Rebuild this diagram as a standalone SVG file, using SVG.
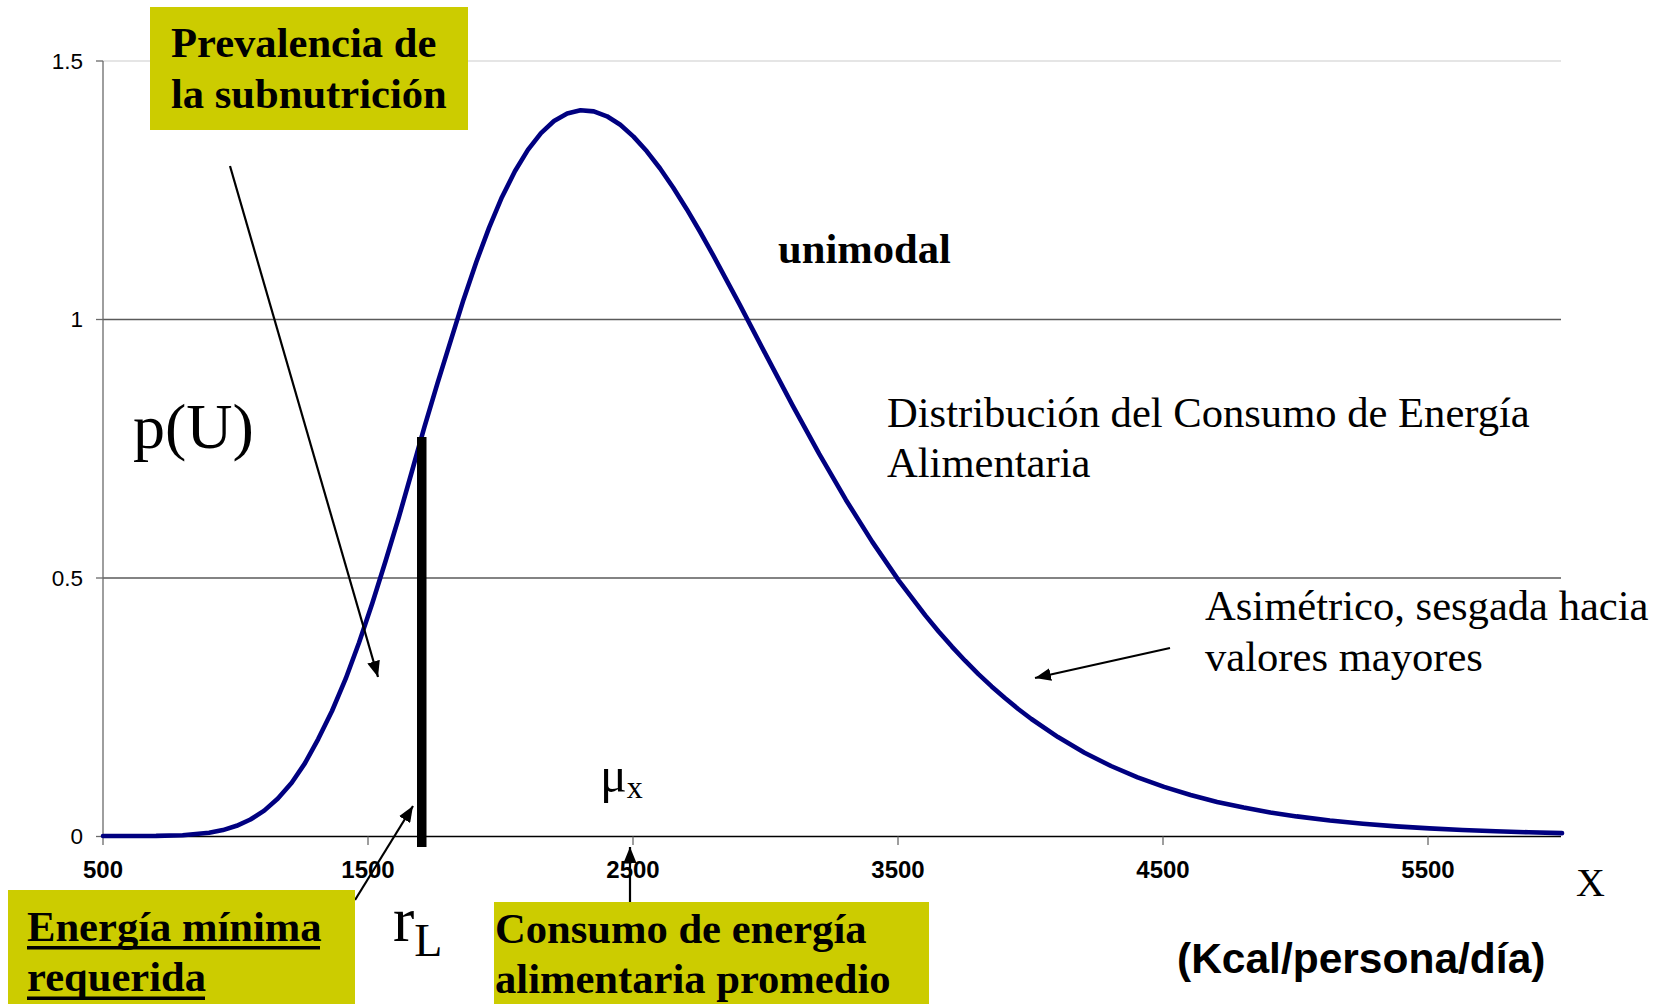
<svg xmlns="http://www.w3.org/2000/svg" width="1660" height="1004" viewBox="0 0 1660 1004">
<defs>
<style>
.serif{font-family:"Liberation Serif","Times New Roman",serif;fill:#000}
.sans{font-family:"Liberation Sans",Arial,sans-serif;fill:#000}
.lbl{font-size:42.6px;font-weight:bold}
.note{font-size:42.6px}
.ytick{font-size:22.5px;text-anchor:end}
.xtick{font-size:24px;font-weight:bold;text-anchor:middle}
.box{fill:#CCCC00}
.grid{stroke:#5a5a5a;stroke-width:1.3}
.conn{stroke:#000;stroke-width:2.2;fill:none}
</style>
<marker id="ah" viewBox="0 0 16 13" refX="16" refY="6.5" markerWidth="16" markerHeight="13" markerUnits="userSpaceOnUse" orient="auto">
<path d="M0,0 L16,6.5 L0,13 Z" fill="#000"/>
</marker>
</defs>
<rect width="1660" height="1004" fill="#fff"/>

<g id="axes">
<line x1="103" y1="61" x2="1561" y2="61" stroke="#dcdcdc" stroke-width="1.3"/>
<line class="grid" x1="103" y1="319.5" x2="1561" y2="319.5"/>
<line class="grid" x1="103" y1="578" x2="1561" y2="578"/>
<line x1="103" y1="61" x2="103" y2="845" stroke="#6a6a6a" stroke-width="1.3"/>
<line x1="103" y1="836.5" x2="1561" y2="836.5" stroke="#000" stroke-width="1.4"/>
<g stroke="#6a6a6a" stroke-width="1.3">
<line x1="96" y1="61" x2="103" y2="61"/>
<line x1="96" y1="319.5" x2="103" y2="319.5"/>
<line x1="96" y1="578" x2="103" y2="578"/>
<line x1="96" y1="836.5" x2="103" y2="836.5"/>
<line x1="368" y1="836.5" x2="368" y2="845"/>
<line x1="633" y1="836.5" x2="633" y2="845"/>
<line x1="898" y1="836.5" x2="898" y2="845"/>
<line x1="1163" y1="836.5" x2="1163" y2="845"/>
<line x1="1428" y1="836.5" x2="1428" y2="845"/>
</g>
<text class="sans ytick" x="83" y="69">1.5</text>
<text class="sans ytick" x="83" y="327">1</text>
<text class="sans ytick" x="83" y="586">0.5</text>
<text class="sans ytick" x="83" y="844">0</text>
<text class="sans xtick" x="103" y="878">500</text>
<text class="sans xtick" x="368" y="878">1500</text>
<text class="sans xtick" x="633" y="878">2500</text>
<text class="sans xtick" x="898" y="878">3500</text>
<text class="sans xtick" x="1163" y="878">4500</text>
<text class="sans xtick" x="1428" y="878">5500</text>
</g>

<g id="curve">
<polyline fill="none" stroke="#000080" stroke-width="4.6" stroke-linejoin="round" stroke-linecap="round" points="103,836 129.5,836 156.1,835.9 182.6,835.2 209.1,832.8 222.9,830.1 236.6,825.8 250.4,819.5 264.2,810.6 277.9,798.5 291.7,782.8 305,763.1 318.2,739.1 332,711 345.7,678.7 359,642.7 372.3,603.3 385.5,561.3 398.8,517.4 411.6,472.5 424.3,427.4 437.6,382.9 450.9,340.1 463.6,299.4 476.4,261.7 489.2,227.4 501.9,197.2 514.9,171.3 527.9,149.9 541,133.1 554,121 567.2,113.5 580.5,110.3 593.8,111.4 607,116.3 620.3,124.8 633.5,136.6 646.8,151.3 660.1,168.5 673.3,187.8 686.6,208.9 699.9,231.5 713.1,255.1 739.7,304.7 766.2,355.4 792.7,405.6 819.2,453.9 845.8,499.7 872.3,541.9 898.8,580.6 925.3,615.4 938.6,631.5 951.9,646.6 965.1,660.7 978.4,674.1 991.6,686.4 1004.9,698 1018.2,709 1031.4,719 1058,737.1 1084.5,752.7 1111,766 1137.6,777.4 1164.1,786.9 1190.6,795 1217.1,801.9 1243.7,807.6 1270.2,812.4 1296.7,816.4 1329.9,820.5 1363,823.8 1396.2,826.4 1429.4,828.4 1462.5,830 1495.7,831.3 1528.8,832.3 1562,833.1"/>
</g>

<g id="threshold-bar">
<rect x="417" y="437" width="9.5" height="410" fill="#000"/>
</g>

<g id="connectors">
<line class="conn" x1="230" y1="166" x2="378" y2="677" marker-end="url(#ah)"/>
<line class="conn" x1="355" y1="900" x2="413" y2="806" marker-end="url(#ah)"/>
<line class="conn" x1="630" y1="902" x2="630" y2="847" marker-end="url(#ah)"/>
<line class="conn" x1="1170" y1="648" x2="1035" y2="678" marker-end="url(#ah)"/>
</g>

<g id="node-prevalencia">
<rect class="box" x="150" y="7" width="318" height="123"/>
<text class="serif lbl" x="171" y="57">Prevalencia de</text>
<text class="serif lbl" x="171" y="108">la subnutrición</text>
</g>

<g id="node-energia-minima">
<rect class="box" x="8" y="890" width="347" height="114"/>
<text class="serif lbl" x="27" y="941">Energía mínima</text>
<text class="serif lbl" x="27" y="991">requerida</text>
<rect x="27" y="946" width="293" height="3.5" fill="#000"/>
<rect x="27" y="996.5" width="178" height="3.5" fill="#000"/>
</g>

<g id="node-consumo">
<rect class="box" x="494" y="902" width="435" height="102"/>
<text class="serif lbl" x="495" y="943">Consumo de energía</text>
<text class="serif lbl" x="495" y="993">alimentaria promedio</text>
</g>

<g id="node-unimodal">
<text class="serif lbl" x="778" y="263">unimodal</text>
</g>

<g id="node-distribucion">
<text class="serif note" x="887" y="427">Distribución del Consumo de Energía</text>
<text class="serif note" x="887" y="477">Alimentaria</text>
</g>

<g id="node-asimetrico">
<text class="serif note" x="1205" y="620">Asimétrico, sesgada hacia</text>
<text class="serif note" x="1205" y="671">valores mayores</text>
</g>

<g id="node-pU">
<text class="serif" x="133" y="448" font-size="64">p(U)</text>
</g>

<g id="node-mu">
<text class="serif" x="600" y="792" font-size="50">μ<tspan font-size="32" dy="6">x</tspan></text>
</g>

<g id="node-rL">
<text class="serif" x="393" y="941" font-size="64">r<tspan font-size="46" dy="15">L</tspan></text>
</g>

<g id="node-X">
<text class="serif" x="1576" y="896" font-size="40">X</text>
</g>

<g id="node-units">
<text class="sans" x="1177" y="973" font-size="42.5" font-weight="bold">(Kcal/persona/día)</text>
</g>
</svg>
